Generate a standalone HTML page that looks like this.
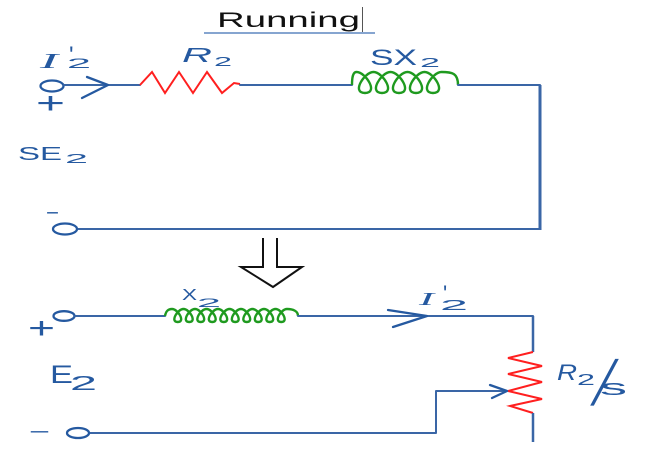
<!DOCTYPE html>
<html>
<head>
<meta charset="utf-8">
<style>
  html,body{margin:0;padding:0;background:#fff;}
  body{width:649px;height:457px;overflow:hidden;}
  svg{display:block;}
  .w{stroke:#3a66a6;stroke-width:2;fill:none;stroke-linecap:round;stroke-linejoin:round;}
  .h{stroke:#2559a0;stroke-width:2.3;fill:none;stroke-linecap:round;stroke-linejoin:round;}
  .r{stroke:#ff1f1f;stroke-width:2;fill:none;stroke-linejoin:miter;}
  .g{stroke:#1f9a1f;stroke-width:2.4;fill:none;stroke-linejoin:round;}
  .t{fill:#2559a0;font-family:"Liberation Sans",sans-serif;}
  .s{fill:#2559a0;font-family:"Liberation Serif",serif;font-style:italic;}
  .m{fill:#2559a0;font-family:"DejaVu Sans Mono","DejaVu Sans",monospace;}
</style>
</head>
<body>
<svg width="649" height="457" viewBox="0 0 649 457" xmlns="http://www.w3.org/2000/svg">
  <!-- Title -->
  <text x="217" y="27" font-family="Liberation Sans, sans-serif" font-size="21" fill="#111" textLength="143" lengthAdjust="spacingAndGlyphs">Running</text>
  <line x1="204" y1="33" x2="375" y2="33" stroke="#5f87c0" stroke-width="1.5"/>
  <line x1="362.5" y1="7" x2="362.5" y2="32" stroke="#555" stroke-width="1"/>

  <!-- ===== Top circuit ===== -->
  <ellipse class="h" cx="52" cy="86" rx="11.5" ry="5.5"/>
  <line class="w" x1="64" y1="85" x2="140" y2="85"/>
  <polyline class="h" points="87,77 108,85 82,98"/>
  <polyline class="r" points="140,85 152,72 165,93 179,72 193,93 207,72 222,93 234,83 240,84"/>
  <line class="w" x1="240" y1="85" x2="352" y2="85"/>
  <path class="g" d="M352,85 C352,77 353,72 356.5,72
    c9,0 22.5,21 8.5,21 c-14,0 -0.5,-21 8.5,-21
    c9,0 22.5,21 8.5,21 c-14,0 -0.5,-21 8.5,-21
    c9,0 22.5,21 8.5,21 c-14,0 -0.5,-21 8.5,-21
    c9,0 22.5,21 8.5,21 c-14,0 -0.5,-21 8.5,-21
    c9,0 22.5,21 8.5,21 c-14,0 -0.5,-21 8.5,-21
    C452,72 458,73 458,85"/>
  <line class="w" x1="458" y1="85" x2="540" y2="85"/>
  <line x1="540" y1="85" x2="540" y2="230" stroke="#3a66a6" stroke-width="3"/>
  <line class="w" x1="77" y1="229" x2="540" y2="229"/>
  <ellipse class="h" cx="65" cy="229" rx="12" ry="5.5"/>

  <!-- top labels -->
  <text class="s" x="40" y="68" font-size="21" textLength="18" lengthAdjust="spacingAndGlyphs">I</text>
  <text class="t" x="69" y="63" font-size="24">'</text>
  <text class="t" x="67" y="68" font-size="14" textLength="24" lengthAdjust="spacingAndGlyphs">2</text>
  <text class="t" x="182" y="62" font-size="20" font-style="italic" textLength="30" lengthAdjust="spacingAndGlyphs">R</text>
  <text class="t" x="214" y="66" font-size="13" textLength="18" lengthAdjust="spacingAndGlyphs">2</text>
  <text class="t" x="370" y="65" font-size="22" textLength="47" lengthAdjust="spacingAndGlyphs">SX</text>
  <text class="t" x="420" y="67" font-size="13" textLength="20" lengthAdjust="spacingAndGlyphs">2</text>
  <text class="t" x="36" y="113" font-size="30" textLength="29" lengthAdjust="spacingAndGlyphs">+</text>
  <text class="t" x="18" y="160" font-size="18" textLength="44" lengthAdjust="spacingAndGlyphs">SE</text>
  <text class="t" x="65" y="163" font-size="13" textLength="23" lengthAdjust="spacingAndGlyphs">2</text>
  <text class="t" x="46" y="219.5" font-size="20" textLength="13" lengthAdjust="spacingAndGlyphs">−</text>

  <!-- Hollow down arrow -->
  <path d="M263,238 L263,267 L241,267 L273,287 L302,267 L277,267 L277,238" fill="none" stroke="#111" stroke-width="2" stroke-linejoin="miter"/>

  <!-- ===== Bottom circuit ===== -->
  <ellipse class="h" cx="64" cy="316" rx="10.5" ry="4.8"/>
  <line class="w" x1="75" y1="316" x2="165" y2="316"/>
  <path class="g" d="M165,316 C166,311 168,309 172,309
    c6,0 13.75,13 5.75,13 c-8,0 -0.25,-13 5.75,-13
    c6,0 13.75,13 5.75,13 c-8,0 -0.25,-13 5.75,-13
    c6,0 13.75,13 5.75,13 c-8,0 -0.25,-13 5.75,-13
    c6,0 13.75,13 5.75,13 c-8,0 -0.25,-13 5.75,-13
    c6,0 13.75,13 5.75,13 c-8,0 -0.25,-13 5.75,-13
    c6,0 13.75,13 5.75,13 c-8,0 -0.25,-13 5.75,-13
    c6,0 13.75,13 5.75,13 c-8,0 -0.25,-13 5.75,-13
    c6,0 13.75,13 5.75,13 c-8,0 -0.25,-13 5.75,-13
    c6,0 13.75,13 5.75,13 c-8,0 -0.25,-13 5.75,-13
    c6,0 13.75,13 5.75,13 c-8,0 -0.25,-13 5.75,-13
    C293,309 298,311 298,316"/>
  <line class="w" x1="298" y1="316" x2="533" y2="316"/>
  <polyline class="h" points="388,310 427,316 393,327"/>
  <line x1="533" y1="316" x2="533" y2="352" stroke="#3a66a6" stroke-width="2.5"/>
  <polyline class="r" points="533,352 508,358 542,366 508,374 542,382 508,391 542,399 510,406 533,413"/>
  <line x1="533" y1="413" x2="533" y2="442" stroke="#3a66a6" stroke-width="2.5"/>
  <polyline class="w" points="89,433 436,433 436,391 507,391"/>
  <polyline class="h" points="490,385 507,391 492,398"/>
  <ellipse class="h" cx="78" cy="433" rx="11" ry="5"/>

  <!-- bottom labels -->
  <text class="t" x="182" y="300" font-size="16" textLength="15" lengthAdjust="spacingAndGlyphs">X</text>
  <text class="t" x="197" y="307" font-size="12" textLength="24" lengthAdjust="spacingAndGlyphs">2</text>
  <text class="s" x="419" y="305" font-size="18" textLength="15" lengthAdjust="spacingAndGlyphs">I</text>
  <text class="t" x="443" y="301" font-size="22">'</text>
  <text class="t" x="440" y="310" font-size="15" textLength="28" lengthAdjust="spacingAndGlyphs">2</text>
  <text class="t" x="28" y="338" font-size="30" textLength="27" lengthAdjust="spacingAndGlyphs">+</text>
  <text class="t" x="50" y="383" font-size="25" textLength="23" lengthAdjust="spacingAndGlyphs">E</text>
  <text class="t" x="70" y="390" font-size="20" textLength="27" lengthAdjust="spacingAndGlyphs">2</text>
  <text class="t" x="29" y="438.5" font-size="20" textLength="21" lengthAdjust="spacingAndGlyphs">−</text>
  <text class="t" x="557" y="380" font-size="22" font-style="italic" textLength="20" lengthAdjust="spacingAndGlyphs">R</text>
  <text class="t" x="577" y="385" font-size="16" textLength="18" lengthAdjust="spacingAndGlyphs">2</text>
  <text class="m" x="592" y="396" font-size="40" textLength="25" lengthAdjust="spacingAndGlyphs">╱</text>
  <text class="t" x="600" y="395" font-size="22" textLength="27" lengthAdjust="spacingAndGlyphs">s</text>
</svg>
</body>
</html>
